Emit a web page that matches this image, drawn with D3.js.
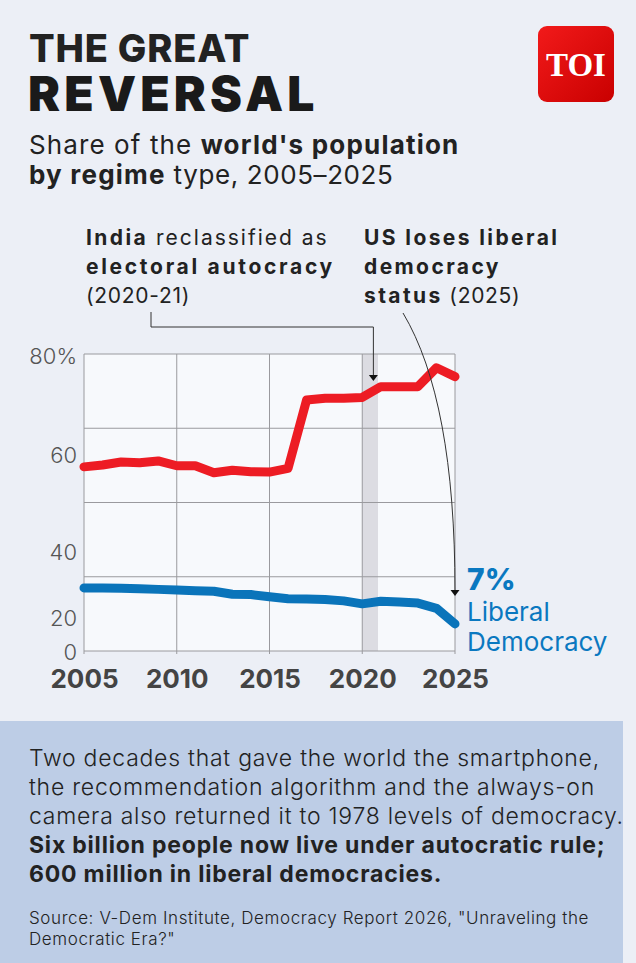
<!DOCTYPE html>
<html><head><meta charset="utf-8">
<script src="https://cdn.jsdelivr.net/npm/d3@7"></script>
<style>
html,body{margin:0;padding:0;background:#ECEFF6;}
svg{display:block;}
text{font-family:Inter,"Open Sans",sans-serif;}
</style></head>
<body>
<script>
// ---------- DATA ----------
const years = [2005,2006,2007,2008,2009,2010,2011,2012,2013,2014,2015,2016,2017,2018,2019,2020,2021,2022,2023,2024,2025];
const autocracy = [49.6,50.1,50.9,50.7,51.2,49.9,49.9,48.0,48.7,48.3,48.2,49.2,67.6,68.1,68.1,68.3,71.2,71.2,71.2,76.3,73.9];
const liberalDemocracy = [17.0,17.0,16.9,16.8,16.6,16.4,16.2,16.1,15.3,15.2,14.6,14.1,14.0,13.9,13.5,12.7,13.4,13.2,12.9,11.5,7.3];
const xTicks = [2005,2010,2015,2020,2025];
const yTicks = [0,20,40,60,80];
const yTickLabels = ["0","20","40","60","80%"];
const highlightYears = [2020, 2020.85];
const indiaTarget = {year:2020.6, value:72.7};
const usTarget = {year:2025, value:14.8};

// ---------- LAYOUT ----------
const W=636, H=963;
const svg = d3.select("body").append("svg").attr("width",W).attr("height",H);
svg.append("rect").attr("width",W).attr("height",H).attr("fill","#ECEFF6");

const x = d3.scaleLinear().domain([2005,2025]).range([84,455]);
const y = d3.scaleLinear().domain([0,80]).range([651,354]);
// tick labels as placed in the original graphic
const yLabelPos = d3.scaleLinear().domain(yTicks).range([652,618,552,455,356]);

const ink="#222";

// Title (one text element, two lines)
const title = svg.append("text").attr("fill",ink);
title.append("tspan").attr("x",29).attr("y",62).attr("font-size",38).attr("font-weight",800)
  .attr("letter-spacing",0.8).text("THE GREAT");
title.append("tspan").attr("x",28).attr("y",111).attr("font-size",48).attr("font-weight",900)
  .attr("letter-spacing",4.2).attr("fill","#1a1a1a").text("REVERSAL");

// TOI logo
const defs = svg.append("defs");
const g1 = defs.append("linearGradient").attr("id","toi").attr("x1","0").attr("y1","0").attr("x2","1").attr("y2","1");
g1.append("stop").attr("offset","0").attr("stop-color","#F21A1A");
g1.append("stop").attr("offset","1").attr("stop-color","#C90000");
svg.append("rect").attr("x",538).attr("y",26).attr("width",76).attr("height",76).attr("rx",9).attr("fill","url(#toi)");
svg.append("text").attr("x",576).attr("y",76).attr("text-anchor","middle")
  .attr("font-weight",700).attr("font-size",33).attr("fill","#fff")
  .style("font-family","'Liberation Serif','DejaVu Serif',serif").text("TOI");

// rich text helper: parts = [text, bold, letterSpacing]
function rich(parent, xx, yy, size, parts, color){
  const t = parent.append("text").attr("x",xx).attr("y",yy).attr("font-size",size).attr("fill",color||ink);
  parts.forEach(p=>{
    t.append("tspan").attr("font-weight",p[1]?700:400).attr("letter-spacing",p[2]||0).text(p[0]);
  });
  return t;
}
// Subtitle
rich(svg,29,154,26,[["Share of the ",0,1.1],["world's population",1,1.2]]);
rich(svg,29,184,26,[["by regime",1,1.2],[" type, 2005–2025",0,0.6]]);

// Annotations text
const bLS=2.4, rLS=2.0;
rich(svg,86,245,21,[["India",1,bLS],[" reclassified as",0,rLS]]);
rich(svg,86,274,21,[["electoral autocracy",1,2.7]]);
rich(svg,86,303,21,[["(2020-21)",0,0.7]]);
rich(svg,364,245,21,[["US loses liberal",1,bLS]]);
rich(svg,364,274,21,[["democracy",1,bLS]]);
rich(svg,364,303,21,[["status",1,bLS],[" (2025)",0,0.7]]);

// Plot background
const px0=x.range()[0], px1=x.range()[1], py0=y.range()[1], py1=y.range()[0];
svg.append("rect").attr("x",px0).attr("y",py0).attr("width",px1-px0).attr("height",py1-py0).attr("fill","#F7F9FC");

// Highlight band
svg.append("rect").attr("x",x(highlightYears[0])).attr("y",py0)
  .attr("width",x(highlightYears[1])-x(highlightYears[0])).attr("height",py1-py0).attr("fill","#DCDCE2");

// Gridlines
const gridColor="#9A9A9E";
svg.append("g").selectAll("line").data(yTicks).join("line")
  .attr("x1",px0).attr("x2",px1).attr("y1",d=>y(d)).attr("y2",d=>y(d))
  .attr("stroke",gridColor).attr("stroke-width",1);
svg.append("g").selectAll("line").data(xTicks).join("line")
  .attr("x1",d=>x(d)).attr("x2",d=>x(d)).attr("y1",py0).attr("y2",py1+3)
  .attr("stroke",gridColor).attr("stroke-width",1);

// Y labels
svg.append("g").selectAll("text").data(yTicks).join("text")
  .attr("x",77).attr("y",d=>yLabelPos(d)).attr("dy","0.36em").attr("text-anchor","end")
  .attr("font-size",22).attr("font-weight",300).attr("fill","#555").text((d,i)=>yTickLabels[i]);

// X axis labels
const xAxis = d3.axisBottom(x).tickValues(xTicks).tickFormat(d3.format("d")).tickSize(0).tickPadding(0);
const gx = svg.append("g").attr("transform",`translate(0,${py1})`).call(xAxis);
gx.select(".domain").remove();
gx.selectAll("text").attr("font-size",26).attr("font-weight",700).attr("fill","#444")
  .attr("dy",null).attr("y",37).style("font-family","Inter,sans-serif");

// Lines
const line = d3.line().x(d=>x(d[0])).y(d=>y(d[1]));
const redData = years.map((yr,i)=>[yr,autocracy[i]]);
const blueData = years.map((yr,i)=>[yr,liberalDemocracy[i]]);
svg.append("path").datum(redData).attr("d",line).attr("fill","none").attr("stroke","#ED1C24")
  .attr("stroke-width",9).attr("stroke-linejoin","round").attr("stroke-linecap","round");
svg.append("path").datum(blueData).attr("d",line).attr("fill","none").attr("stroke","#0A74BA")
  .attr("stroke-width",9).attr("stroke-linejoin","round").attr("stroke-linecap","round");

// Connectors
const conn="#333";
function arrowHead(tx,ty){
  svg.append("path").attr("d",`M${tx-4.5},${ty-6}L${tx+4.5},${ty-6}L${tx},${ty}Z`).attr("fill","#111");
}
const iTip=[x(indiaTarget.year), y(indiaTarget.value)];
svg.append("path").attr("d",`M151,312V327H${iTip[0]}V${iTip[1]-5}`).attr("fill","none").attr("stroke",conn).attr("stroke-width",1);
arrowHead(iTip[0],iTip[1]);
const uTip=[x(usTarget.year), y(usTarget.value)];
svg.append("path").attr("d",`M403,313Q${uTip[0]},400 ${uTip[0]},${uTip[1]-5}`).attr("fill","none").attr("stroke",conn).attr("stroke-width",1);
arrowHead(uTip[0],uTip[1]);

// Right label
const blue="#0A78C0";
svg.append("text").attr("x",467).attr("y",590).attr("font-size",30).attr("font-weight",800).attr("fill",blue).text("7%");
svg.append("text").attr("x",467).attr("y",621).attr("font-size",26).attr("font-weight",400).attr("fill",blue).text("Liberal");
svg.append("text").attr("x",467).attr("y",651).attr("font-size",26).attr("font-weight",400).attr("fill",blue).text("Democracy");

// Bottom box
svg.append("rect").attr("x",0).attr("y",721).attr("width",623).attr("height",H-721).attr("fill","#BDCDE6");
const body = [
  ["Two decades that gave the world the smartphone,",0],
  ["the recommendation algorithm and the always-on",0],
  ["camera also returned it to 1978 levels of democracy.",0],
  ["Six billion people now live under autocratic rule;",1],
  ["600 million in liberal democracies.",1]
];
body.forEach((b,i)=>{
  svg.append("text").attr("x",29).attr("y",766+i*29).attr("font-size",23)
    .attr("font-weight",b[1]?700:300).attr("letter-spacing",b[1]?0.8:0.75).attr("fill",ink).text(b[0]);
});
svg.append("text").attr("x",29).attr("y",924).attr("font-size",17).attr("font-weight",300).attr("letter-spacing",0.6).attr("fill",ink)
  .text('Source: V-Dem Institute, Democracy Report 2026, "Unraveling the');
svg.append("text").attr("x",29).attr("y",945).attr("font-size",17).attr("font-weight",300).attr("letter-spacing",0.6).attr("fill",ink)
  .text('Democratic Era?"');
</script>
</body></html>
